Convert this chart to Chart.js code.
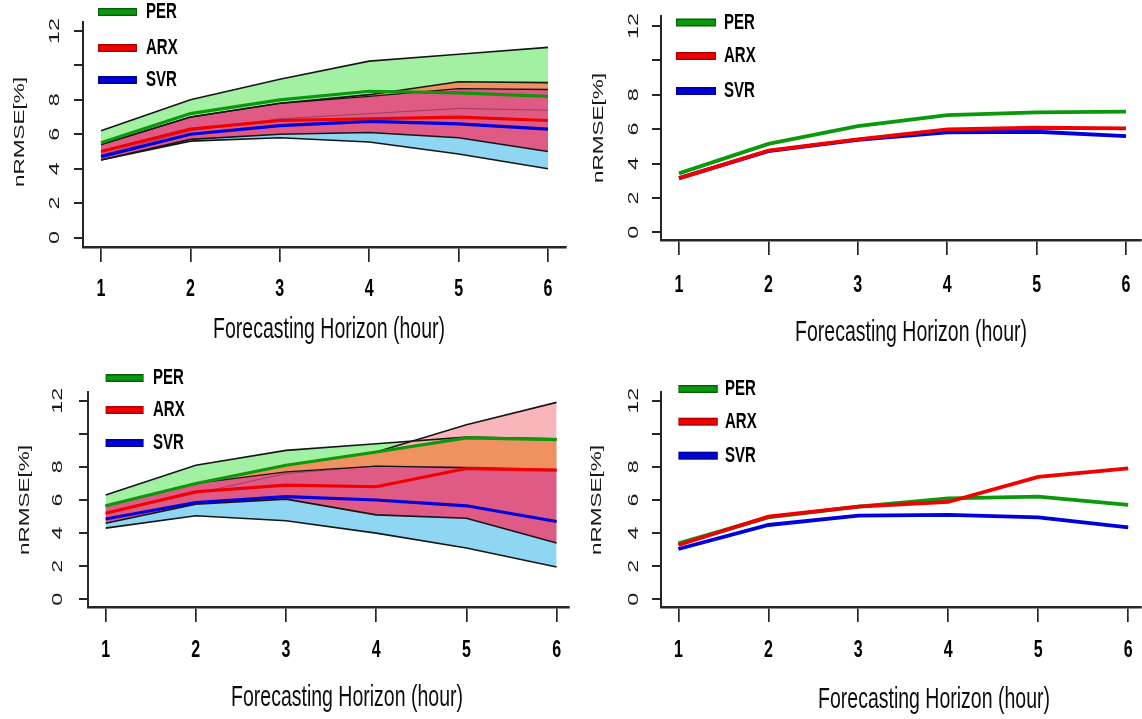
<!DOCTYPE html>
<html>
<head>
<meta charset="utf-8">
<script src="https://cdn.jsdelivr.net/npm/chart.js@4.4.0/dist/chart.umd.min.js"></script>
<style>
  body { margin: 0; background: #fff; width: 1142px; height: 719px; overflow: hidden; position: relative; }
  canvas { position: absolute; }
</style>
</head>
<body>
<canvas id="tl" width="571" height="360" style="left:0;top:0"></canvas>
<canvas id="tr" width="571" height="360" style="left:571px;top:0"></canvas>
<canvas id="bl" width="571" height="359" style="left:0;top:360px"></canvas>
<canvas id="br" width="571" height="359" style="left:571px;top:360px"></canvas>
<script>
const horizons = [1, 2, 3, 4, 5, 6];
const yTicks = [0, 2, 4, 6, 8, 10, 12];
const yTickLabels = ['0', '2', '4', '6', '8', '', '12'];
const methodNames = ['PER', 'ARX', 'SVR'];
const xTitle = 'Forecasting Horizon (hour)';
const yTitle = 'nRMSE[%]';

// top left: means with bands
const perMeanTL = [5.5, 7.2, 8.0, 8.5, 8.4, 8.2];
const perUpTL = [6.2, 8.0, 9.2, 10.25, 10.65, 11.05];
const perLoTL = [4.8, 6.2, 6.9, 7.2, 7.5, 7.4];
const arxMeanTL = [5.0, 6.3, 6.8, 6.9, 7.0, 6.8];
const arxUpTL = [5.4, 7.0, 7.8, 8.3, 9.05, 9.0];
const arxLoTL = [4.5, 5.7, 6.0, 6.1, 5.8, 5.0];
const svrMeanTL = [4.7, 6.0, 6.5, 6.75, 6.6, 6.3];
const svrUpTL = [5.4, 7.0, 7.8, 8.2, 8.65, 8.6];
const svrLoTL = [4.5, 5.6, 5.8, 5.55, 4.85, 4.0];

// top right
const perTR = [3.43, 5.14, 6.18, 6.82, 6.98, 7.02];
const arxTR = [3.14, 4.75, 5.41, 5.99, 6.08, 6.05];
const svrTR = [3.15, 4.72, 5.38, 5.82, 5.85, 5.6];

// bottom left: means with bands
const perMeanBL = [5.65, 7.0, 8.1, 8.9, 9.75, 9.65];
const perUpBL = [6.3, 8.1, 9.0, 9.4, 9.8, 9.7];
const perLoBL = [5.2, 6.4, 7.6, 8.05, 8.0, 7.85];
const arxMeanBL = [5.2, 6.5, 6.9, 6.8, 7.9, 7.8];
const arxUpBL = [5.65, 7.0, 8.1, 8.9, 10.55, 11.9];
const arxLoBL = [4.6, 5.75, 6.05, 5.1, 4.9, 3.4];
const svrMeanBL = [4.85, 5.85, 6.2, 6.0, 5.65, 4.7];
const svrUpBL = [5.65, 7.0, 7.7, 8.05, 7.95, 7.8];
const svrLoBL = [4.3, 5.05, 4.75, 4.0, 3.1, 1.95];

// bottom right
const perBR = [3.38, 4.95, 5.6, 6.1, 6.2, 5.7];
const arxBR = [3.28, 4.99, 5.6, 5.88, 7.4, 7.91];
const svrBR = [3.04, 4.49, 5.05, 5.1, 4.95, 4.35];

const lineColors = { PER: '#0b990b', ARX: '#f00000', SVR: '#0000dc' };
const legendEdge = { PER: '#06600a', ARX: '#b00000', SVR: '#00008c' };
const fills = {
  per: '#a2f0a2',
  svr: '#8fd6f3',
  arx: '#f8b6ba',
  arxPer: '#ef9160',
  arxSvr: '#e05a86',
};
const FONT = '"Liberation Sans", Arial, sans-serif';

// panel placement on the page (pixels)
const layoutTL = { left: 0, top: 0, axisX: 83, axisRight: 566, axisTop: 22, axisBottom: 247,
  x1: 101, x6: 548, y0: 237.5, y12: 31, yLabelX: 55, xLabelY: 289, titleX: 329, titleY: 330,
  nameX: 20, nameY: 132, legX: 98, legLen: 39, legTextX: 146, legY: [12, 48, 80] };
const layoutTR = { left: 571, top: 0, axisX: 661, axisRight: 1141, axisTop: 16, axisBottom: 240,
  x1: 679, x6: 1126, y0: 232.3, y12: 26, yLabelX: 634, xLabelY: 285, titleX: 911, titleY: 333,
  nameX: 599, nameY: 128, legX: 676, legLen: 40, legTextX: 724, legY: [22.5, 56, 91] };
const layoutBL = { left: 0, top: 360, axisX: 88, axisRight: 569, axisTop: 392, axisBottom: 607,
  x1: 105.6, x6: 556.6, y0: 599.3, y12: 400.7, yLabelX: 58, xLabelY: 650, titleX: 347, titleY: 698,
  nameX: 25, nameY: 500, legX: 105.6, legLen: 38, legTextX: 153, legY: [378, 410, 443] };
const layoutBR = { left: 571, top: 360, axisX: 661, axisRight: 1141, axisTop: 392, axisBottom: 607,
  x1: 678.4, x6: 1128.2, y0: 599.3, y12: 400.7, yLabelX: 634, xLabelY: 650, titleX: 934, titleY: 700,
  nameX: 597, nameY: 500, legX: 678.4, legLen: 39.4, legTextX: 725, legY: [389, 421.7, 455.7] };

function pts(arr) {
  return horizons.map((h, i) => ({ x: h, y: arr[i] }));
}

function line(arr, color, width, order, fill) {
  return {
    data: pts(arr),
    borderColor: color,
    borderWidth: width,
    backgroundColor: fill ? fill.color : 'transparent',
    fill: fill ? fill.target : false,
    pointRadius: 0,
    tension: 0,
    order,
  };
}

// where two bands overlap; collapses to nothing where they do not
function overlap(up1, lo1, up2, lo2) {
  const up = up1.map((v, i) => Math.min(v, up2[i]));
  const lo = lo1.map((v, i) => Math.min(Math.max(v, lo2[i]), up[i]));
  return [up, lo];
}

function bandSets(b) {
  const [apUp, apLo] = overlap(b.arxUp, b.arxLo, b.perUp, b.perLo);
  const [asUp, asLo] = overlap(b.arxUp, b.arxLo, b.svrUp, b.svrLo);
  const edge = '#161616';
  return [
    line(b.perUp, edge, 1.6, 20, { target: 1, color: fills.per }),
    line(b.perLo, 'rgba(60,20,30,0.4)', 1, 20),
    line(b.svrUp, edge, 1.3, 19, { target: 3, color: fills.svr }),
    line(b.svrLo, edge, 1.6, 19),
    line(b.arxUp, edge, 1.6, 18, { target: 5, color: fills.arx }),
    line(b.arxLo, edge, 1.6, 18),
    line(apUp, 'transparent', 0, 17, { target: 7, color: fills.arxPer }),
    line(apLo, 'transparent', 0, 17),
    line(asUp, 'transparent', 0, 16, { target: 9, color: fills.arxSvr }),
    line(asLo, 'transparent', 0, 16),
    line(b.svrMean, lineColors.SVR, 3.2, 2),
    line(b.perMean, lineColors.PER, 3.2, 1),
    line(b.arxMean, lineColors.ARX, 3.2, 0),
  ];
}

function plainSets(per, arx, svr) {
  return [
    line(arx, lineColors.ARX, 3.8, 0),
    line(per, lineColors.PER, 3.8, 1),
    line(svr, lineColors.SVR, 3.8, 2),
  ];
}

// text in this figure is stretched vertically
function text(ctx, s, x, y, font, align, rotated) {
  ctx.save();
  ctx.translate(x, y);
  ctx.scale(1, 1.5);
  if (rotated) ctx.rotate(-Math.PI / 2);
  ctx.font = font;
  ctx.textAlign = align || 'center';
  ctx.textBaseline = 'middle';
  ctx.fillText(s, 0, 0);
  ctx.restore();
}

function decor(L) {
  return {
    id: 'decor',
    afterDraw(chart) {
      const ctx = chart.ctx;
      const xs = chart.scales.x;
      const ys = chart.scales.y;
      ctx.save();
      ctx.fillStyle = '#1a1a1a';
      yTicks.forEach((v, i) => {
        text(ctx, yTickLabels[i], L.yLabelX - L.left, ys.getPixelForValue(v), '15.5px ' + FONT, 'center', true);
      });
      ctx.fillStyle = '#000';
      horizons.forEach((h) => {
        text(ctx, String(h), xs.getPixelForValue(h), L.xLabelY - L.top, 'bold 16px ' + FONT, 'center', false);
      });
      ctx.fillStyle = '#0d0d0d';
      text(ctx, xTitle, L.titleX - L.left, L.titleY - L.top, '19.5px ' + FONT, 'center', false);
      ctx.fillStyle = '#1a1a1a';
      text(ctx, yTitle, L.nameX - L.left, L.nameY - L.top, '15px ' + FONT, 'center', true);

      methodNames.forEach((m, i) => {
        const y = L.legY[i] - L.top;
        const x = L.legX - L.left;
        ctx.fillStyle = legendEdge[m];
        ctx.fillRect(x, y - 4, L.legLen, 8);
        ctx.fillStyle = lineColors[m];
        ctx.fillRect(x + 1, y - 2.5, L.legLen - 2, 5);
        ctx.fillStyle = '#000';
        text(ctx, m, L.legTextX - L.left, y, 'bold 15px ' + FONT, 'left', false);
      });
      ctx.restore();
    },
  };
}

function makeChart(id, L, datasets) {
  const canvas = document.getElementById(id);
  const W = canvas.width;
  const H = canvas.height;
  const ux = (L.x6 - L.x1) / 5;
  const uy = (L.y0 - L.y12) / 12;

  return new Chart(canvas, {
    type: 'line',
    data: { datasets },
    options: {
      responsive: false,
      animation: false,
      events: [],
      layout: {
        padding: { left: 0, top: L.axisTop - L.top, right: W - (L.axisRight - L.left), bottom: 0 },
      },
      plugins: {
        legend: { display: false },
        tooltip: { enabled: false },
        filler: { drawTime: 'beforeDatasetsDraw' },
      },
      scales: {
        x: {
          type: 'linear',
          min: 1 - (L.x1 - L.axisX) / ux,
          max: 6 + (L.axisRight - L.x6) / ux,
          afterBuildTicks: (s) => { s.ticks = horizons.map((v) => ({ value: v })); },
          afterFit: (s) => { s.height = H - (L.axisBottom - L.top); },
          ticks: { display: false },
          grid: { drawOnChartArea: false, tickLength: 15, color: '#262626', lineWidth: 1.7 },
          border: { color: '#262626', width: 2.5 },
        },
        y: {
          type: 'linear',
          min: -(L.axisBottom - L.y0) / uy,
          max: 12 + (L.y12 - L.axisTop) / uy,
          afterBuildTicks: (s) => { s.ticks = yTicks.map((v) => ({ value: v })); },
          afterFit: (s) => { s.width = L.axisX - L.left; },
          ticks: { display: false },
          grid: { drawOnChartArea: false, tickLength: 9, color: '#262626', lineWidth: 2 },
          border: { color: '#262626', width: 2 },
        },
      },
    },
    plugins: [decor(L)],
  });
}

makeChart('tl', layoutTL, bandSets({
  perMean: perMeanTL, perUp: perUpTL, perLo: perLoTL,
  arxMean: arxMeanTL, arxUp: arxUpTL, arxLo: arxLoTL,
  svrMean: svrMeanTL, svrUp: svrUpTL, svrLo: svrLoTL,
}));
makeChart('tr', layoutTR, plainSets(perTR, arxTR, svrTR));
makeChart('bl', layoutBL, bandSets({
  perMean: perMeanBL, perUp: perUpBL, perLo: perLoBL,
  arxMean: arxMeanBL, arxUp: arxUpBL, arxLo: arxLoBL,
  svrMean: svrMeanBL, svrUp: svrUpBL, svrLo: svrLoBL,
}));
makeChart('br', layoutBR, plainSets(perBR, arxBR, svrBR));
</script>
</body>
</html>
